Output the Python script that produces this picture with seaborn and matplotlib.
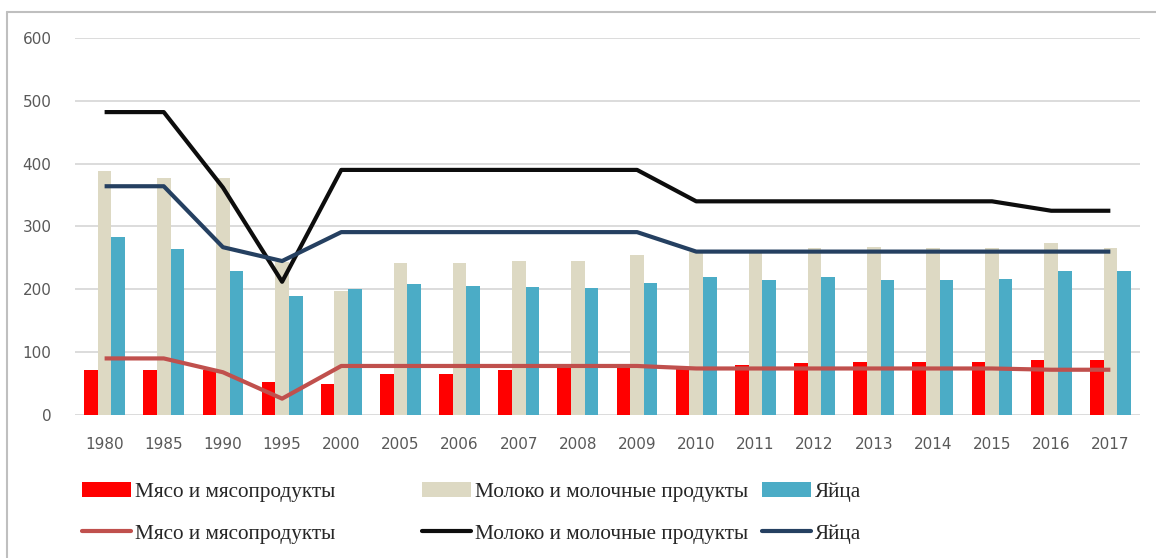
import numpy as np
import pandas as pd
import seaborn as sns
import matplotlib.pyplot as plt
from matplotlib.lines import Line2D
from matplotlib.patches import Patch

# годы
years = ['1980', '1985', '1990', '1995', '2000', '2005', '2006', '2007', '2008',
         '2009', '2010', '2011', '2012', '2013', '2014', '2015', '2016', '2017']

# фактическое потребление (столбцы)
meat = [71, 71, 71, 53, 50, 65, 66, 71, 79, 74, 76, 80, 83, 85, 85, 85, 87, 87]
milk = [388, 377, 377, 243, 198, 242, 242, 245, 245, 254, 260, 263, 266, 268, 266, 266, 273, 266]
eggs = [284, 264, 229, 190, 201, 209, 206, 204, 202, 210, 220, 215, 220, 215, 215, 217, 229, 229]

# нормы (линии)
meat_norm = [90, 90, 68, 26, 78, 78, 78, 78, 78, 78, 74, 74, 74, 74, 74, 74, 72, 72]
milk_norm = [482, 482, 362, 212, 390, 390, 390, 390, 390, 390, 340, 340, 340, 340, 340, 340, 325, 325]
eggs_norm = [364, 364, 267, 245, 291, 291, 291, 291, 291, 291, 260, 260, 260, 260, 260, 260, 260, 260]

names = ['Мясо и мясопродукты', 'Молоко и молочные продукты', 'Яйца']
bar_colors = ['#FF0000', '#DDD9C3', '#4BACC6']
line_colors = ['#C0504D', '#0D0D0D', '#254061']

bars_df = pd.DataFrame({'year': years * 3,
                        'series': sum([[n] * len(years) for n in names], []),
                        'value': meat + milk + eggs})
lines_df = pd.DataFrame({'year': years * 3,
                         'series': sum([[n] * len(years) for n in names], []),
                         'value': meat_norm + milk_norm + eggs_norm})

sns.set_style('white')
plt.rcParams['font.family'] = ['DejaVu Sans']

fig = plt.figure(figsize=(11.56, 5.58), dpi=100)
ax = fig.add_axes([0.0649, 0.2563, 0.9212, 0.6757])

sns.barplot(data=bars_df, x='year', y='value', hue='series', palette=bar_colors,
            saturation=1, width=0.69, linewidth=0, ax=ax, legend=False, zorder=2)
sns.pointplot(data=lines_df, x='year', y='value', hue='series', palette=line_colors,
              markers='', errorbar=None, lw=3, ax=ax, legend=False)
for ln in ax.lines:
    ln.set_zorder(3)
    ln.set_solid_capstyle('butt')

ax.set_ylim(0, 600)
ax.set_xlim(-0.5, len(years) - 0.5)
ax.set_yticks(range(0, 601, 100))
ax.yaxis.grid(True, color='#D9D9D9', lw=1.3)
ax.set_axisbelow(True)
for s in ax.spines.values():
    s.set_visible(False)
ax.set_xlabel('')
ax.set_ylabel('')
ax.tick_params(axis='both', length=0, labelsize=11, labelcolor='#595959')
ax.tick_params(axis='y', pad=17)
ax.tick_params(axis='x', pad=16)

# рамка
fig.add_artist(Line2D([7 / 1156, 1], [1 - 12 / 558] * 2, color='#BFBFBF', lw=1.5))
fig.add_artist(Line2D([7 / 1156] * 2, [0, 1 - 12 / 558], color='#BFBFBF', lw=1.5))

# легенда: три колонки по 340 px
for i, n in enumerate(names):
    handles = [Patch(facecolor=bar_colors[i], edgecolor='none'),
               Line2D([], [], color=line_colors[i], lw=3)]
    fig.legend(handles, [n, n], loc='upper left',
               bbox_to_anchor=(82 / 1156 + i * 340 / 1156, 1 - 482 / 558),
               frameon=False, borderpad=0, borderaxespad=0,
               handlelength=2.3, handleheight=0.7, handletextpad=0.2,
               labelspacing=1.04,
               prop={'family': 'Liberation Serif', 'size': 15.3})

fig.savefig('out.png', dpi=100)
